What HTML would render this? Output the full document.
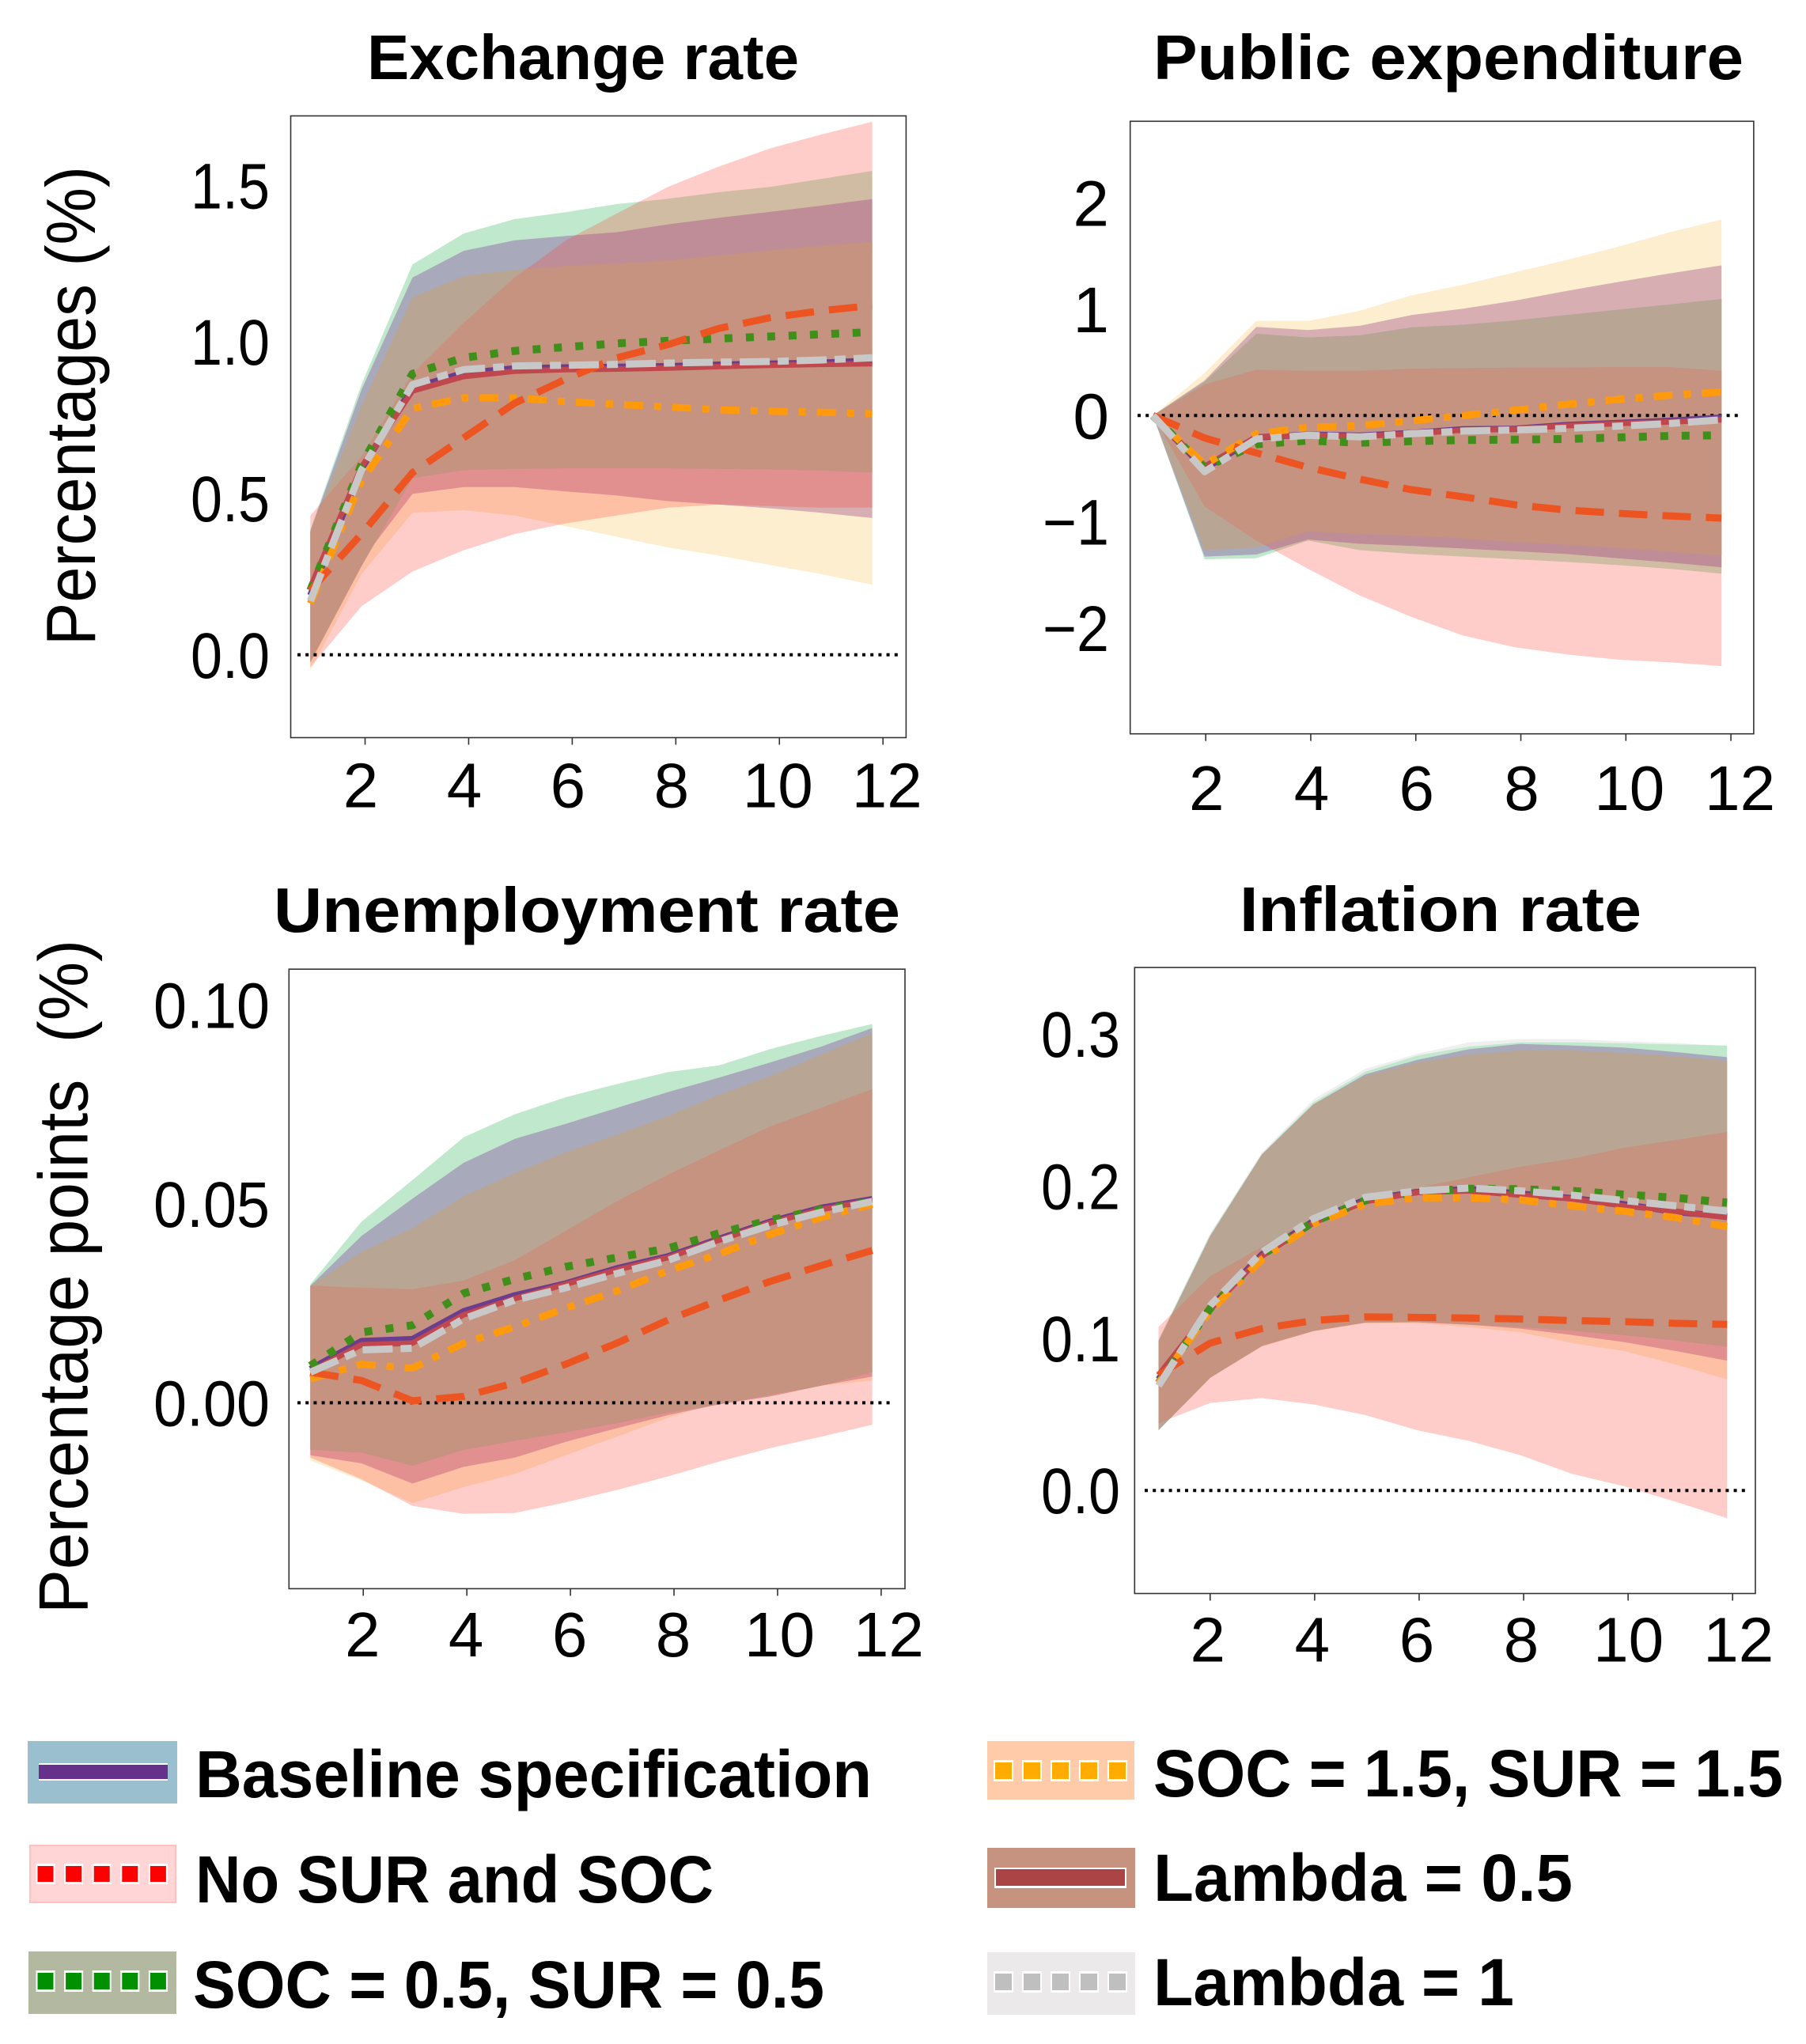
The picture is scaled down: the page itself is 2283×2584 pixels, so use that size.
<!DOCTYPE html>
<html lang="en">
<head>
<meta charset="utf-8">
<title>Impulse responses</title>
<style>
html,body{margin:0;padding:0;background:#fff;}
svg{display:block;}
text{font-family:"Liberation Sans",sans-serif;fill:#000;}
.t{font-weight:700;font-size:80px;}
.l{font-weight:700;font-size:84px;}
.a{font-size:88px;}
</style>
</head>
<body>
<svg id="chart" width="2283" height="2584" viewBox="0 0 2283 2584">
<rect width="2283" height="2584" fill="#fff"/>
<g id="plots"></g>

<text class="t" x="464" y="100" textLength="546" lengthAdjust="spacingAndGlyphs">Exchange rate</text>
<text class="t" x="1458" y="100" textLength="746" lengthAdjust="spacingAndGlyphs">Public expenditure</text>
<text class="t" x="346" y="1178" textLength="792" lengthAdjust="spacingAndGlyphs">Unemployment rate</text>
<text class="t" x="1567" y="1177" textLength="508" lengthAdjust="spacingAndGlyphs">Inflation rate</text>

<text class="a" transform="translate(120,816) rotate(-90)" textLength="606" lengthAdjust="spacingAndGlyphs">Percentages (%)</text>
<text class="a" transform="translate(110.5,2040) rotate(-90)" textLength="852" lengthAdjust="spacingAndGlyphs" xml:space="preserve" style="white-space:pre">Percentage points  (%)</text>

<g>
  <g>
    <rect x="35" y="2201" width="189" height="79" fill="#9abfce"/>
    <rect x="49" y="2229" width="163" height="22" fill="#fff"/>
    <rect x="49" y="2231" width="163" height="18" fill="#65318a"/>
    <text class="l" x="247" y="2272" textLength="855" lengthAdjust="spacingAndGlyphs">Baseline specification</text>
  </g>
  <g>
    <rect x="38" y="2333" width="184" height="72" fill="#ffd5d5" stroke="#ffc0c0" stroke-width="2"/>
    <g id="dotsRed"></g>
    <text class="l" x="247" y="2405" textLength="655" lengthAdjust="spacingAndGlyphs">No SUR and SOC</text>
  </g>
  <g>
    <rect x="36" y="2467" width="187" height="79" fill="#b3b9a0"/>
    <g id="dotsGreen"></g>
    <text class="l" x="244" y="2538" textLength="798" lengthAdjust="spacingAndGlyphs">SOC = 0.5, SUR = 0.5</text>
  </g>
  <g>
    <rect x="1248" y="2201" width="186" height="74" fill="#ffcba8"/>
    <g id="dotsOrange"></g>
    <text class="l" x="1458" y="2271" textLength="796" lengthAdjust="spacingAndGlyphs">SOC = 1.5, SUR = 1.5</text>
  </g>
  <g>
    <rect x="1248" y="2336" width="187" height="76" fill="#c59380"/>
    <rect x="1257" y="2361" width="167" height="26" fill="#fff"/>
    <rect x="1259" y="2363" width="163" height="21" fill="#ab4545"/>
    <text class="l" x="1458" y="2403" textLength="530" lengthAdjust="spacingAndGlyphs">Lambda = 0.5</text>
  </g>
  <g>
    <rect x="1248" y="2468" width="187" height="79" fill="#ece9ea"/>
    <g id="dotsGray"></g>
    <text class="l" x="1458" y="2535" textLength="456" lengthAdjust="spacingAndGlyphs">Lambda = 1</text>
  </g>
</g>
</svg>

<script>
const periods = [1,2,3,4,5,6,7,8,9,10,11,12];
const xTickValues = [2,4,6,8,10,12];

/* Exchange rate */
const exTicks = [0,0.5,1,1.5];
const exTickLabels = ['0.0','0.5','1.0','1.5'];
const exNoSurUpper = [.445,.633,.898,1.06,1.205,1.324,1.41,1.495,1.56,1.618,1.662,1.703];
const exNoSurLower = [-.04,.155,.266,.334,.386,.42,.445,.47,.48,.475,.47,.47];
const exSocHighUpper = [.35,.8,1.1,1.2,1.22,1.25,1.25,1.27,1.28,1.3,1.31,1.32];
const exSocHighLower = [-.05,.258,.454,.462,.445,.411,.377,.343,.317,.287,.258,.224];
const exSocLowUpper = [.40,.863,1.247,1.346,1.392,1.414,1.44,1.457,1.478,1.495,1.52,1.546];
const exSocLowLower = [-.024,.283,.565,.59,.594,.596,.597,.596,.594,.592,.589,.582];
const exBaseUpper = [.394,.846,1.205,1.29,1.324,1.338,1.35,1.375,1.396,1.415,1.435,1.456];
const exBaseLower = [-.024,.30,.514,.536,.536,.522,.509,.491,.48,.468,.454,.437];
const exHalfUpper = [.394,.795,1.142,1.21,1.23,1.242,1.25,1.26,1.276,1.293,1.307,1.319];
const exHalfLower = [-.024,.283,.565,.59,.594,.596,.597,.596,.594,.592,.589,.582];
const exLineBase = [.19,.595,.853,.9,.915,.918,.92,.922,.927,.93,.933,.94];
const exLineHalf = [.215,.6,.843,.889,.906,.911,.913,.916,.921,.925,.928,.93];
const exLineLow = [.206,.607,.898,.949,.971,.983,.995,1.003,1.01,1.017,1.024,1.031];
const exLineHigh = [.164,.556,.787,.821,.821,.809,.8,.792,.783,.778,.775,.77];
const exLineNoSur = [.206,.386,.582,.693,.804,.881,.949,.991,1.043,1.077,1.099,1.116];
const exLineOne = [.172,.59,.863,.911,.923,.925,.928,.932,.935,.937,.942,.949];

/* Public expenditure */
const peTicks = [-2,-1,0,1,2];
const peTickLabels = ['\u22122','\u22121','0','1','2'];
const peNoSurUpper = [0,.291,.43,.42,.42,.44,.445,.45,.45,.455,.455,.42];
const peNoSurLower = [0,-.854,-1.176,-1.442,-1.693,-1.894,-2.07,-2.18,-2.246,-2.296,-2.322,-2.357];
const peSocHighUpper = [0,.40,.89,.89,.985,1.13,1.23,1.347,1.462,1.588,1.724,1.844];
const peSocHighLower = [0,-1.266,-1.266,-1.176,-1.216,-1.241,-1.266,-1.29,-1.317,-1.342,-1.367,-1.417];
const peSocLowUpper = [0,.317,.769,.734,.754,.829,.854,.894,.945,.995,1.045,1.095];
const peSocLowLower = [0,-1.352,-1.342,-1.176,-1.266,-1.302,-1.327,-1.352,-1.377,-1.407,-1.442,-1.487];
const peBaseUpper = [0,.33,.834,.804,.844,.945,1.005,1.08,1.171,1.256,1.337,1.412];
const peBaseLower = [0,-1.327,-1.307,-1.166,-1.206,-1.226,-1.251,-1.276,-1.302,-1.342,-1.382,-1.427];
const peHalfUpper = [0,.317,.769,.734,.754,.829,.854,.894,.945,.995,1.045,1.095];
const peHalfLower = [0,-1.266,-1.241,-1.09,-1.116,-1.131,-1.156,-1.191,-1.216,-1.246,-1.281,-1.317];
const peLineBase = [0,-.5,-.205,-.18,-.19,-.165,-.13,-.125,-.09,-.07,-.05,-.02];
const peLineHalf = [0,-.477,-.2,-.186,-.196,-.171,-.136,-.126,-.095,-.075,-.06,-.04];
const peLineLow = [0,-.487,-.271,-.236,-.256,-.241,-.231,-.226,-.221,-.206,-.191,-.186];
const peLineHigh = [0,-.462,-.171,-.111,-.095,-.05,0,.05,.106,.151,.191,.221];
const peLineNoSur = [0,-.211,-.352,-.487,-.598,-.698,-.764,-.839,-.889,-.92,-.945,-.965];
const peLineOne = [0,-.528,-.221,-.186,-.201,-.171,-.146,-.136,-.121,-.1,-.075,-.04];

/* Unemployment rate */
const unTicks = [0,0.05,0.1];
const unTickLabels = ['0.00','0.05','0.10'];
const unNoSurUpper = [.0294,.0289,.0285,.0307,.0358,.0432,.0506,.0573,.0634,.0694,.0741,.0788];
const unNoSurLower = [-.0138,-.0192,-.0259,-.0279,-.0277,-.025,-.0219,-.0185,-.0148,-.0114,-.0085,-.0055];
const unSocHighUpper = [.029,.03,.03,.03,.035,.04,.05,.055,.06,.065,.07,.075];
const unSocHighLower = [-.0145,-.0195,-.0252,-.0212,-.0179,-.0132,-.0085,-.0038,.0003,.0023,.0043,.0056];
const unSocLowUpper = [.0298,.0455,.056,.0667,.0725,.0768,.0801,.0831,.0848,.0889,.0922,.0952];
const unSocLowLower = [-.0118,-.0125,-.0158,-.0118,-.0095,-.0074,-.0051,-.0024,-.0004,.002,.0043,.0077];
const unBaseUpper = [.0294,.0419,.0513,.0603,.0663,.0701,.0741,.0781,.0817,.0855,.0895,.0942];
const unBaseLower = [-.0132,-.0152,-.0203,-.0161,-.0138,-.0098,-.0064,-.0031,-.0004,.0016,.0043,.0066];
const unHalfUpper = [.0294,.0379,.0439,.0519,.0577,.063,.0674,.0721,.0774,.0821,.0875,.0929];
const unHalfLower = [-.0118,-.0125,-.0158,-.0118,-.0095,-.0074,-.0051,-.0024,-.0004,.002,.0043,.0077];
const unLineBase = [.0085,.0155,.016,.023,.027,.03,.0338,.0368,.0412,.0455,.049,.0512];
const unLineHalf = [.0079,.0146,.015,.0221,.0262,.0298,.0334,.0365,.0409,.0452,.0486,.0509];
const unLineLow = [.0093,.0177,.0195,.0275,.0311,.0342,.0365,.0388,.0426,.0459,.0486,.0506];
const unLineHigh = [.006,.0097,.0087,.015,.0191,.0238,.0281,.0332,.0374,.0423,.0466,.0499];
const unLineNoSur = [.0077,.0056,.0005,.0016,.005,.0097,.015,.0208,.0258,.0305,.0345,.0383];
const unLineOne = [.0077,.0133,.0137,.0211,.0258,.0289,.0325,.0358,.0405,.0446,.0479,.0506];

/* Inflation rate */
const inTicks = [0,0.1,0.2,0.3];
const inTickLabels = ['0.0','0.1','0.2','0.3'];
const inNoSurUpper = [.1074,.1407,.16,.1793,.1916,.1986,.2056,.2126,.2179,.2249,.2302,.2354];
const inNoSurLower = [.0442,.0575,.0607,.0565,.0495,.0396,.0326,.0232,.0109,.0028,-.0074,-.0182];
const inSocHighUpper = [.09,.14,.17,.19,.2,.21,.22,.22,.23,.23,.23,.23];
const inSocHighLower = [.0396,.074,.0944,.1046,.1098,.1098,.1074,.1039,.0968,.0916,.0828,.073];
const inSocLowUpper = [.0986,.168,.221,.255,.275,.2856,.2916,.2944,.2944,.2937,.293,.2923];
const inSocLowLower = [.0396,.074,.0951,.1049,.1105,.1109,.1091,.1074,.1049,.1021,.0986,.0944];
const inBaseUpper = [.0979,.167,.2207,.2537,.2733,.2828,.2898,.2933,.2923,.2909,.288,.2846];
const inBaseLower = [.0396,.074,.0948,.1047,.1102,.1105,.1088,.1063,.1021,.0975,.0916,.0853];
const inHalfUpper = [.0979,.167,.2207,.2537,.2723,.2811,.2863,.2891,.2891,.2874,.2853,.2821];
const inHalfLower = [.0396,.074,.0951,.1049,.1105,.1109,.1091,.1074,.1049,.1021,.0986,.0944];
const inOneUpper = [.0995,.169,.222,.257,.277,.2868,.2944,.2965,.2965,.295,.294,.292];
const inOneLower = [.05,.09,.11,.12,.12,.12,.12,.12,.12,.12,.12,.12];
const inLineBase = [.073,.12,.155,.177,.191,.196,.198,.195,.192,.188,.183,.18];
const inLineHalf = [.0758,.1189,.154,.1758,.1898,.1958,.1968,.194,.1916,.187,.1835,.1793];
const inLineLow = [.0705,.1196,.1547,.1765,.1905,.1961,.1982,.1979,.1968,.1944,.1923,.1891];
const inLineHigh = [.0705,.1179,.1519,.1751,.1881,.1923,.1923,.1909,.187,.1835,.1793,.1733];
const inLineNoSur = [.0758,.0968,.1063,.1116,.114,.1137,.1133,.1126,.1116,.1109,.1098,.1091];
const inLineOne = [.0688,.1214,.1565,.1786,.1926,.1968,.1986,.1968,.194,.1905,.187,.1835];

const svgRoot = document.getElementById('chart');
const NS = svgRoot.namespaceURI;
const plots = document.getElementById('plots');

function mk(tag, attrs, parent) {
  const el = document.createElementNS(NS, tag);
  for (const k in attrs) el.setAttribute(k, attrs[k]);
  parent.appendChild(el);
  return el;
}

const panels = [
  {key:'exchange-rate', left:367.5, right:1145.4, top:146.5, bottom:932.5, dataLeft:392.3, dataRight:1102.6,
   tick2:461.5, tick12:1116.2, zero:827.8, unit:395.7, zeroLeft:376, zeroRight:1135, labelRight:341, xBase:1020.5, xDx:-5.5,
   ticks:exTicks, labels:exTickLabels,
   one:null,
   high:[exSocHighUpper,exSocHighLower], low:[exSocLowUpper,exSocLowLower], base:[exBaseUpper,exBaseLower], half:[exHalfUpper,exHalfLower], nosur:[exNoSurUpper,exNoSurLower],
   lines:[exLineBase,exLineHalf,exLineLow,exLineHigh,exLineNoSur,exLineOne]},
  {key:'public-expenditure', left:1428.7, right:2216.9, top:153.3, bottom:927.7, dataLeft:1457.5, dataRight:2176.2,
   tick2:1524.2, tick12:2188.1, zero:525.3, unit:134.4, zeroLeft:1438, zeroRight:2203, labelRight:1402, xBase:1024, xDx:1,
   ticks:peTicks, labels:peTickLabels,
   one:null,
   high:[peSocHighUpper,peSocHighLower], low:[peSocLowUpper,peSocLowLower], base:[peBaseUpper,peBaseLower], half:[peHalfUpper,peHalfLower], nosur:[peNoSurUpper,peNoSurLower],
   lines:[peLineBase,peLineHalf,peLineLow,peLineHigh,peLineNoSur,peLineOne]},
  {key:'unemployment-rate', left:365.3, right:1144, top:1225.2, bottom:2008.4, dataLeft:392.3, dataRight:1102.6,
   tick2:459.2, tick12:1113.9, zero:1773.4, unit:5030, zeroLeft:376, zeroRight:1128, labelRight:341, xBase:2094, xDx:-1,
   ticks:unTicks, labels:unTickLabels,
   one:null,
   high:[unSocHighUpper,unSocHighLower], low:[unSocLowUpper,unSocLowLower], base:[unBaseUpper,unBaseLower], half:[unHalfUpper,unHalfLower], nosur:[unNoSurUpper,unNoSurLower],
   lines:[unLineBase,unLineHalf,unLineLow,unLineHigh,unLineNoSur,unLineOne]},
  {key:'inflation-rate', left:1434.3, right:2219, top:1223.1, bottom:2014.5, dataLeft:1464.5, dataRight:2183.2,
   tick2:1529.8, tick12:2190.2, zero:1884.2, unit:1924.3, zeroLeft:1447, zeroRight:2210, labelRight:1416, xBase:2100.5, xDx:-3,
   ticks:inTicks, labels:inTickLabels,
   one:[inOneUpper,inOneLower],
   high:[inSocHighUpper,inSocHighLower], low:[inSocLowUpper,inSocLowLower], base:[inBaseUpper,inBaseLower], half:[inHalfUpper,inHalfLower], nosur:[inNoSurUpper,inNoSurLower],
   lines:[inLineBase,inLineHalf,inLineLow,inLineHigh,inLineNoSur,inLineOne]}
];

const lineStyles = [
  {name:'baseline', color:'#6a3d8f', width:8, dash:''},
  {name:'lambda-half', color:'#c0474d', width:7, dash:''},
  {name:'soc-low', color:'#3f8f1a', width:10, dash:'10 17'},
  {name:'soc-high', color:'#ff9a0d', width:9, dash:'24 14 9 14'},
  {name:'no-sur-soc', color:'#ec5522', width:9, dash:'36 19'},
  {name:'lambda-one', color:'#c8c8c8', width:9, dash:'38 10 14 10'}
];

panels.forEach(function (p, pi) {
  const g = mk('g', {}, plots);
  
  

  const xData = function (period) { return p.dataLeft + (period - 1) * (p.dataRight - p.dataLeft) / 11; };
  const xTick = function (v) { return p.tick2 + (v - 2) * (p.tick12 - p.tick2) / 10; };
  const yVal = function (v) { return p.zero - v * p.unit; };
  const bandPath = function (b) {
    let d = '';
    periods.forEach(function (t, i) { d += (i ? 'L' : 'M') + xData(t).toFixed(1) + ' ' + yVal(b[0][i]).toFixed(1); });
    for (let i = periods.length - 1; i >= 0; i--) { d += 'L' + xData(periods[i]).toFixed(1) + ' ' + yVal(b[1][i]).toFixed(1); }
    return d + 'Z';
  };

  if (p.one) {
    const b0 = mk('path', {d:bandPath(p.one), fill:'#efefef'}, g);
    
    
  }
  const b1 = mk('path', {d:bandPath(p.high), fill:'#fdeecf'}, g);
  
  

  const b2 = mk('path', {d:bandPath(p.low), fill:'#bfe8cc'}, g);
  
  

  const b3 = mk('path', {d:bandPath(p.base), fill:'#d7aeb2'}, g);
  
  

  const clip = mk('clipPath', {id:'lowClip' + pi}, g);
  mk('path', {d:bandPath(p.low)}, clip);
  const b4 = mk('path', {d:bandPath(p.base), fill:'#a8aabc', 'clip-path':'url(#lowClip' + pi + ')'}, g);
  
  

  const b5 = mk('path', {d:bandPath(p.half), fill:'#b8a594'}, g);
  
  

  const b6 = mk('path', {d:bandPath(p.nosur), fill:'rgb(255,55,40)', 'fill-opacity':'0.25'}, g);
  
  

  const clip2 = mk('clipPath', {id:'pinkClip' + pi}, g);
  mk('path', {d:bandPath(p.nosur)}, clip2);
  const b7 = mk('path', {d:bandPath(p.half), fill:'#c59380', 'clip-path':'url(#pinkClip' + pi + ')'}, g);
  
  

  const frame = mk('rect', {x:p.left, y:p.top, width:p.right - p.left, height:p.bottom - p.top, fill:'none', stroke:'#333', 'stroke-width':1.6}, g);
  
  

  const zl = mk('line', {x1:p.zeroLeft, x2:p.zeroRight, y1:yVal(0), y2:yVal(0), stroke:'#000', 'stroke-width':4, 'stroke-dasharray':'4 6.2'}, g);
  
  

  lineStyles.forEach(function (s, i) {
    const values = p.lines[i];
    const pts = periods.map(function (t, k) { return xData(t).toFixed(1) + ',' + yVal(values[k]).toFixed(1); }).join(' ');
    const attrs = {points:pts, fill:'none', stroke:s.color, 'stroke-width':s.width, 'stroke-linejoin':'round'};
    if (s.dash) attrs['stroke-dasharray'] = s.dash;
    const ln = mk('polyline', attrs, g);
    
    
  });

  xTickValues.forEach(function (v) {
    const tx = xTick(v);
    const tk = mk('line', {x1:tx, x2:tx, y1:p.bottom, y2:p.bottom + 9, stroke:'#333', 'stroke-width':1.6}, g);
    
    
    const shift = v === 12 ? 10.5 : (v === 10 ? 3.5 : 0);
    const lb = mk('text', {x:tx + p.xDx + shift, y:p.xBase, 'text-anchor':'middle', 'font-size':80}, g);
    lb.textContent = String(v);
    
    
  });

  p.ticks.forEach(function (v, i) {
    const text = p.labels[i];
    const attrs = {x:p.labelRight, y:yVal(v) + 29, 'text-anchor':'end', 'font-size':82};
    if (text.length > 1) {
      attrs.textLength = text.length === 4 ? 147 : (text.length === 3 ? 100 : 84);
      attrs.lengthAdjust = 'spacingAndGlyphs';
    }
    const lb = mk('text', attrs, g);
    lb.textContent = text;
    
    
  });
});

function legendDots(id, startX, y, w, h, pitch, color) {
  const host = document.getElementById(id);
  for (let i = 0; i < 5; i++) {
    const halo = mk('rect', {x:startX + i * pitch - 2, y:y - 3, width:w + 4, height:h + 6, fill:'#fff'}, host);
    
    
    const d = mk('rect', {x:startX + i * pitch, y:y, width:w, height:h, fill:color}, host);
    
    
  }
}
legendDots('dotsRed', 47.5, 2359, 20, 20, 35.6, '#ff0000');
legendDots('dotsGreen', 47.5, 2494, 20, 21, 35.6, '#009000');
legendDots('dotsOrange', 1258, 2228, 21, 21, 36, '#ffab00');
legendDots('dotsGray', 1258, 2495, 21, 21, 36, '#bfbfbf');
</script>
</body>
</html>
